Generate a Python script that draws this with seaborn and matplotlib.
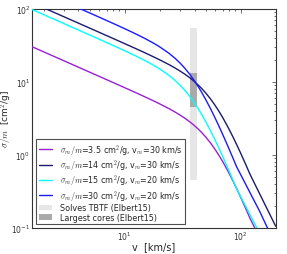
"""
SIDM cross section vs velocity, with Elbert15 constraint bands
"""

import numpy as np
import pandas as pd
import matplotlib
matplotlib.use('Agg')
import matplotlib.pyplot as plt
import seaborn as sns
from matplotlib.patches import Patch
from matplotlib.lines import Line2D

# velocity grid [km/s]
v_kms = [1.6, 2.5, 4, 6, 9, 11, 13, 15, 18, 20, 24, 27, 30, 33, 36, 39, 43, 46, 50,
         55, 60, 65, 70, 77, 85, 92, 100, 110, 120, 145, 175, 200]

# sigma/m [cm^2/g]
sigma_35_30 = [29.98, 21.93, 15.79, 11.88, 8.933, 7.748, 6.876, 6.197, 5.408, 4.985,
               4.298, 3.874, 3.500, 3.170, 2.867, 2.591, 2.255, 2.025, 1.750, 1.449,
               1.194, 0.9820, 0.8067, 0.6137, 0.4519, 0.3489, 0.2625, 0.1873, 0.1364,
               0.07428, 0.0406, 0.02645]
sigma_14_30 = [119.9, 87.73, 63.16, 47.53, 35.73, 30.99, 27.51, 24.79, 21.63, 19.94,
               17.19, 15.50, 14.00, 12.68, 11.47, 10.36, 9.018, 8.101, 6.999, 5.796,
               4.777, 3.928, 3.227, 2.455, 1.807, 1.396, 1.050, 0.7491, 0.5455,
               0.2971, 0.1624, 0.1058]
sigma_15_20 = [96.74, 70.80, 50.92, 38.28, 28.67, 24.75, 21.79, 19.44, 16.60, 15.00,
               12.29, 10.54, 9.000, 7.639, 6.451, 5.426, 4.292, 3.596, 2.843, 2.130,
               1.609, 1.228, 0.9478, 0.6724, 0.4664, 0.3460, 0.268, 0.2000, 0.1529,
               0.0857, 0.04544, 0.02877]
sigma_30_20 = [193.5, 141.6, 101.8, 76.57, 57.35, 49.50, 43.58, 38.88, 33.21, 30.00,
               24.58, 21.09, 18.00, 15.28, 12.90, 10.85, 8.584, 7.192, 5.686, 4.259,
               3.218, 2.456, 1.896, 1.345, 0.9327, 0.6921, 0.536, 0.400, 0.3058,
               0.1715, 0.0909, 0.05753]

curve_labels = [
    r'$\sigma_m/m$=3.5 cm$^2$/g, v$_m$=30 km/s',
    r'$\sigma_m/m$=14 cm$^2$/g, v$_m$=30 km/s',
    r'$\sigma_m/m$=15 cm$^2$/g, v$_m$=20 km/s',
    r'$\sigma_m/m$=30 cm$^2$/g, v$_m$=20 km/s',
]
curve_colors = ['#9b1fd6', '#1b1b6f', '#00ffff', '#1a1aff']

# Elbert15 bands
band_v = [36.5, 42.2]
tbtf_sigma = [0.45, 55]
cores_sigma = [4.5, 13]
band_labels = ['Solves TBTF (Elbert15)', 'Largest cores (Elbert15)']
band_colors = ['#e6e6e6', '#aaaaaa']

sns.set_style('white')
plt.rcParams['font.family'] = ['DejaVu Sans']
plt.rcParams['mathtext.fontset'] = 'cm'


def main():
    fig = plt.figure(figsize=(2.87, 2.55), dpi=100)
    ax = fig.add_axes([0.1125, 0.102, 0.848, 0.8605])

    # bands first so the lines sit on top
    ax.fill_between(band_v, tbtf_sigma[0], tbtf_sigma[1], color=band_colors[0], lw=0, zorder=1)
    ax.fill_between(band_v, cores_sigma[0], cores_sigma[1], color=band_colors[1], lw=0, zorder=1.5)

    series = [sigma_35_30, sigma_14_30, sigma_15_20, sigma_30_20]
    for ys, col in zip(series, curve_colors):
        df = pd.DataFrame({'v': v_kms, 'sigma': ys})
        sns.lineplot(data=df, x='v', y='sigma', color=col, lw=1.0, ax=ax, zorder=3)

    ax.set_xscale('log')
    ax.set_yscale('log')
    ax.set_xlim(1.6, 200)
    ax.set_ylim(0.1, 100)

    ax.set_xlabel('v  [km/s]', fontsize=7, labelpad=-1)
    ax.set_ylabel(r'$\sigma/m$  [cm$^2$/g]', fontsize=6.5)
    ax.yaxis.set_label_coords(-0.075, 0.5)

    ax.tick_params(which='both', direction='in', top=True, right=True,
                   labelsize=5.5, colors='#333333', width=0.5, pad=1.5)
    ax.tick_params(which='major', length=3)
    ax.tick_params(which='minor', length=1.5)
    for s in ax.spines.values():
        s.set_color('#333333')
        s.set_linewidth(0.8)

    handles = [Line2D([], [], color=c, lw=1.0) for c in curve_colors]
    handles += [Patch(facecolor=c, edgecolor='none') for c in band_colors]
    leg = ax.legend(handles, curve_labels + band_labels, loc='lower left',
                    fontsize=5.8, frameon=True, fancybox=False, handlelength=1.6,
                    handletextpad=1.0, labelspacing=0.05, borderaxespad=0.45,
                    borderpad=0.35)
    leg.get_frame().set_edgecolor('#222222')
    leg.get_frame().set_linewidth(0.8)

    fig.savefig('out.png', dpi=100)
    plt.close(fig)


if __name__ == "__main__":
    main()
